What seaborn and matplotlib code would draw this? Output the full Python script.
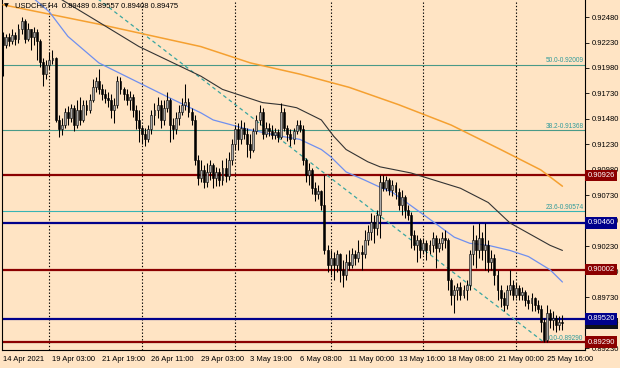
import matplotlib
matplotlib.use("Agg")
import matplotlib.pyplot as plt
import seaborn as sns
import numpy as np

# ---------------- data ----------------
symbol_text = "USDCHF,H4"
last_ohlc = ["0.89489", "0.89557", "0.89408", "0.89475"]

first_open = 0.9228
closes = [
    0.9221, 0.9228, 0.9224, 0.9230, 0.9226, 0.9236, 0.9244, 0.9226, 0.9236, 0.9228,
    0.9233, 0.9224, 0.9204, 0.9192, 0.9201, 0.9206, 0.9208, 0.9147, 0.9138, 0.9142,
    0.9155, 0.9149, 0.9159, 0.9142, 0.9157, 0.9147, 0.9162, 0.9157, 0.9167, 0.9179,
    0.9185, 0.9177, 0.9172, 0.9169, 0.9167, 0.9157, 0.9162, 0.9185, 0.9177, 0.9172,
    0.9167, 0.9170, 0.9157, 0.9147, 0.9139, 0.9133, 0.9128, 0.9138, 0.9152, 0.9157,
    0.9162, 0.9147, 0.9159, 0.9167, 0.9142, 0.9138, 0.9149, 0.9155, 0.9162, 0.9165,
    0.9155, 0.9147, 0.9108, 0.9090, 0.9098, 0.9086, 0.9096, 0.9103, 0.9090, 0.9096,
    0.9088, 0.9100, 0.9092, 0.9108, 0.9123, 0.9138, 0.9128, 0.9139, 0.9133, 0.9123,
    0.9118, 0.9136, 0.9147, 0.9155, 0.9133, 0.9139, 0.9136, 0.9132, 0.9135, 0.9130,
    0.9155, 0.9139, 0.9133, 0.9128, 0.9136, 0.9142, 0.9138, 0.9108, 0.9093, 0.9098,
    0.9080, 0.9074, 0.9077, 0.9064, 0.9019, 0.9005, 0.9012, 0.9005, 0.9015, 0.9000,
    0.8995, 0.9008, 0.9005, 0.9015, 0.9012, 0.9017, 0.9015, 0.9029, 0.9037, 0.9047,
    0.9041, 0.9054, 0.9086, 0.9080, 0.9088, 0.9078, 0.9083, 0.9076, 0.9064, 0.9071,
    0.9059, 0.9054, 0.9034, 0.9024, 0.9029, 0.9019, 0.9026, 0.9019, 0.9024, 0.9031,
    0.9021, 0.9026, 0.9031, 0.9029, 0.8990, 0.8975, 0.8980, 0.8983, 0.8975, 0.8980,
    0.8985, 0.9015, 0.9029, 0.9019, 0.9031, 0.9019, 0.9024, 0.9008, 0.9012, 0.8995,
    0.8980, 0.8972, 0.8965, 0.8980, 0.8985, 0.8975, 0.8982, 0.8975, 0.8978, 0.8970,
    0.8967, 0.8972, 0.8965, 0.8962, 0.8949, 0.8931, 0.8958, 0.8951, 0.8953, 0.8946,
    0.89489, 0.89475,
]
highs = [
    0.9233, 0.9231, 0.9232, 0.9236, 0.9233, 0.9241, 0.9248, 0.9246, 0.9242, 0.9236,
    0.9238, 0.9236, 0.9226, 0.9208, 0.9206, 0.9214, 0.9216, 0.9209, 0.9152, 0.9149,
    0.9159, 0.9161, 0.9163, 0.9162, 0.9167, 0.9170, 0.9167, 0.9167, 0.9172, 0.9187,
    0.9189, 0.9197, 0.9182, 0.9177, 0.9174, 0.9172, 0.9169, 0.9190, 0.9189, 0.9179,
    0.9177, 0.9175, 0.9172, 0.9162, 0.9157, 0.9142, 0.9139, 0.9142, 0.9157, 0.9164,
    0.9170, 0.9167, 0.9167, 0.9174, 0.9169, 0.9149, 0.9155, 0.9162, 0.9169, 0.9182,
    0.9169, 0.9159, 0.9152, 0.9113, 0.9108, 0.9103, 0.9105, 0.9108, 0.9105, 0.9101,
    0.9100, 0.9108, 0.9110, 0.9116, 0.9128, 0.9142, 0.9144, 0.9147, 0.9145, 0.9139,
    0.9133, 0.9139, 0.9152, 0.9162, 0.9159, 0.9145, 0.9144, 0.9142, 0.9139, 0.9138,
    0.9164, 0.9159, 0.9142, 0.9138, 0.9139, 0.9147, 0.9147, 0.9142, 0.9110, 0.9105,
    0.9100, 0.9086, 0.9083, 0.9078, 0.9093, 0.9024, 0.9019, 0.9017, 0.9019, 0.9016,
    0.9010, 0.9015, 0.9019, 0.9021, 0.9019, 0.9029, 0.9024, 0.9039, 0.9044, 0.9056,
    0.9054, 0.9059, 0.9093, 0.9093, 0.9092, 0.9090, 0.9088, 0.9086, 0.9080, 0.9078,
    0.9073, 0.9064, 0.9057, 0.9039, 0.9034, 0.9031, 0.9031, 0.9029, 0.9029, 0.9037,
    0.9034, 0.9031, 0.9037, 0.9039, 0.9031, 0.8992, 0.8985, 0.8987, 0.8988, 0.8985,
    0.8990, 0.9019, 0.9044, 0.9034, 0.9046, 0.9037, 0.9046, 0.9029, 0.9019, 0.9015,
    0.9000, 0.8985, 0.8978, 0.8985, 0.9000, 0.8990, 0.8987, 0.8985, 0.8983, 0.8980,
    0.8975, 0.8977, 0.8973, 0.8970, 0.8965, 0.8953, 0.8965, 0.8962, 0.8960, 0.8956,
    0.8955, 0.89557,
]
lows = [
    0.9190, 0.9218, 0.9220, 0.9222, 0.9221, 0.9223, 0.9231, 0.9223, 0.9224, 0.9216,
    0.9221, 0.9206, 0.9199, 0.9180, 0.9187, 0.9197, 0.9202, 0.9145, 0.9130, 0.9132,
    0.9139, 0.9142, 0.9145, 0.9136, 0.9139, 0.9142, 0.9145, 0.9152, 0.9154, 0.9165,
    0.9174, 0.9172, 0.9167, 0.9164, 0.9160, 0.9149, 0.9144, 0.9159, 0.9172, 0.9167,
    0.9162, 0.9157, 0.9150, 0.9138, 0.9125, 0.9123, 0.9121, 0.9125, 0.9133, 0.9142,
    0.9149, 0.9139, 0.9142, 0.9155, 0.9125, 0.9128, 0.9133, 0.9142, 0.9152, 0.9157,
    0.9150, 0.9142, 0.9103, 0.9083, 0.9086, 0.9080, 0.9081, 0.9088, 0.9080, 0.9082,
    0.9082, 0.9083, 0.9086, 0.9088, 0.9103, 0.9118, 0.9118, 0.9123, 0.9128, 0.9111,
    0.9110, 0.9116, 0.9133, 0.9142, 0.9128, 0.9130, 0.9131, 0.9128, 0.9128, 0.9125,
    0.9128, 0.9136, 0.9126, 0.9121, 0.9123, 0.9133, 0.9135, 0.9103, 0.9086, 0.9083,
    0.9074, 0.9067, 0.9069, 0.9059, 0.9015, 0.8998, 0.8995, 0.8990, 0.8998, 0.8988,
    0.8983, 0.8990, 0.9000, 0.9002, 0.9005, 0.9008, 0.9000, 0.9012, 0.9024, 0.9029,
    0.9026, 0.9034, 0.9031, 0.9077, 0.9077, 0.9073, 0.9072, 0.9069, 0.9059, 0.9054,
    0.9051, 0.9049, 0.9021, 0.9019, 0.9008, 0.9012, 0.9015, 0.9010, 0.9015, 0.9017,
    0.9002, 0.9017, 0.9019, 0.9021, 0.8980, 0.8965, 0.8958, 0.8970, 0.8970, 0.8972,
    0.8970, 0.8980, 0.9005, 0.9002, 0.9012, 0.9010, 0.9000, 0.8998, 0.9000, 0.8985,
    0.8970, 0.8963, 0.8960, 0.8962, 0.8975, 0.8970, 0.8972, 0.8970, 0.8970, 0.8964,
    0.8962, 0.8960, 0.8960, 0.8958, 0.8939, 0.8929, 0.8929, 0.8943, 0.8941, 0.8939,
    0.8941, 0.89408,
]

time_labels = ["14 Apr 2021", "19 Apr 03:00", "21 Apr 19:00", "26 Apr 11:00",
               "29 Apr 03:00", "3 May 19:00", "6 May 08:00", "11 May 00:00",
               "13 May 16:00", "18 May 08:00", "21 May 00:00", "25 May 16:00"]
week_start_bars = [15, 45, 75, 106, 136, 166]

price_ticks = [0.92480, 0.92230, 0.91980, 0.91730, 0.91480, 0.91230, 0.90980,
               0.90730, 0.90480, 0.90230, 0.89980, 0.89730, 0.89480, 0.89230]

red_levels = [0.90926, 0.90002, 0.89290]
blue_levels = [0.90460, 0.89520]
fib_names = ["50.0", "38.2", "23.6", "0.0"]
fib_prices = [0.92009, 0.91368, 0.90574, 0.89290]
fib_anchor_bars = [-58, 175]
fib_anchor_prices = [0.94728, 0.89290]

ma_slow_bars = [0, 31, 64, 80, 96, 112, 128, 145, 161, 174, 181]
ma_slow = [0.9260, 0.9241, 0.9219, 0.9203, 0.9192, 0.9179, 0.9162, 0.9142, 0.9118, 0.9098, 0.9082]
ma_mid_bars = [17, 19, 31, 44, 64, 71, 84, 90, 95, 103, 107, 111, 118, 122, 132, 148, 157, 164, 177, 181]
ma_mid = [0.9270, 0.9265, 0.9243, 0.9219, 0.9190, 0.9177, 0.9164, 0.9162, 0.9159, 0.9147,
          0.9131, 0.9118, 0.9106, 0.9101, 0.9095, 0.9080, 0.9066, 0.9046, 0.9024, 0.9019]
ma_fast_bars = [8, 10, 15, 21, 31, 45, 53, 64, 68, 79, 90, 96, 103, 106, 111, 117, 122, 126,
                137, 146, 151, 157, 164, 170, 177, 181]
ma_fast = [0.9275, 0.9266, 0.9253, 0.9229, 0.9203, 0.9182, 0.9170, 0.9154, 0.9147, 0.9138,
           0.9131, 0.9128, 0.9118, 0.9111, 0.9096, 0.9088, 0.9081, 0.9076, 0.9052, 0.9032,
           0.9026, 0.9024, 0.9019, 0.9013, 0.9000, 0.8988]

# ---------------- style ----------------
BG = "#FFE4C4"
FS = 5.5
FS_FIB = 4.7
sns.set_style("white")
plt.rcParams["font.family"] = ["Liberation Sans", "DejaVu Sans"]
plt.rcParams["axes.facecolor"] = BG
plt.rcParams["figure.facecolor"] = BG

W, H = 620, 368
fig = plt.figure(figsize=(W / 100, H / 100), dpi=100)
ax = fig.add_axes([2 / W, (H - 350) / H, (585 - 2) / W, 350 / H])
ax.set_facecolor(BG)

n = len(closes)
idx = np.arange(n)
o = np.array([first_open] + closes[:-1])
c = np.array(closes)
h = np.maximum(np.array(highs), np.maximum(o, c))
l = np.minimum(np.array(lows), np.minimum(o, c))

ax.set_xlim(-0.33, 188.3)
ax.set_ylim(0.89213, 0.92647)

# week separators
for b in week_start_bars:
    ax.axvline(b, color="black", lw=0.8, ls=(0, (1.2, 1.8)), zorder=1)

# horizontal levels
for p in fib_prices:
    col = "#38b4b4" if p < 0.91 else "#4a9a88"
    ax.axhline(p, color=col, lw=0.8, zorder=2)
for p in red_levels:
    ax.axhline(p, color="#8B0000", lw=1.6, zorder=2)
for p in blue_levels:
    ax.axhline(p, color="#00008B", lw=1.6, zorder=2)

# fib trend line
ax.plot(fib_anchor_bars, fib_anchor_prices, color="#3aa6a0", lw=0.9,
        ls=(0, (3, 2.5)), zorder=2)

# moving averages
sns.lineplot(x=ma_slow_bars, y=ma_slow, ax=ax, color="#F5A030", lw=1.1, zorder=3)
sns.lineplot(x=ma_mid_bars, y=ma_mid, ax=ax, color="#333333", lw=0.8, zorder=3)
sns.lineplot(x=ma_fast_bars, y=ma_fast, ax=ax, color="#6F8FEF", lw=0.9, zorder=3)

# candles
ax.vlines(idx, l, h, color="black", lw=0.75, zorder=4)
bull = c >= o
body_bottom = np.minimum(o, c)
body_h = np.maximum(np.abs(c - o), 0.00003)
ax.bar(idx[bull], body_h[bull], bottom=body_bottom[bull], width=0.62,
       color="#A8A8A8", edgecolor="black", linewidth=0.4, zorder=5)
ax.bar(idx[~bull], body_h[~bull], bottom=body_bottom[~bull], width=0.62,
       color="black", edgecolor="black", linewidth=0.4, zorder=5)

# fib labels
for name, p in zip(fib_names, fib_prices):
    ax.text(187.8, p + 0.00006, f"{name}-{p:.5f}", ha="right", va="bottom",
            fontsize=FS_FIB, color="#2f9a9a", zorder=6)

# axes styling
ax.spines["top"].set_visible(False)
for s in ["left", "right", "bottom"]:
    ax.spines[s].set_color("black")
    ax.spines[s].set_linewidth(0.8)
ax.yaxis.tick_right()
ax.set_yticks(price_ticks)
ax.set_yticklabels([f"{t:.5f}" for t in price_ticks])
ax.tick_params(axis="y", which="both", right=True, left=False, length=3, width=0.6,
               pad=1.5, labelsize=FS, colors="black")
ax.set_xticks(list(range(0, 16 * len(time_labels), 16)))
ax.set_xticklabels(time_labels, ha="left")
ax.tick_params(axis="x", length=3, width=0.6, pad=1.5, labelsize=FS, colors="black")
for t in ax.get_xticklabels():
    t.set_horizontalalignment("left")

# header
ax.text(0.004, 0.991, "\u25BC", transform=ax.transAxes, ha="left", va="top",
        fontsize=4.5, color="black", family=["DejaVu Sans"])
ax.text(0.022, 0.995, symbol_text + "  " + " ".join(last_ohlc), transform=ax.transAxes,
        ha="left", va="top", fontsize=FS, color="black")

# price boxes on the right
def price_box(p, fc, z):
    ax.annotate(f"{p:.5f}", xy=(1.0, p), xycoords=("axes fraction", "data"),
                xytext=(2.0, 0), textcoords="offset points", ha="left", va="center",
                fontsize=FS, color="white", zorder=z, annotation_clip=False,
                bbox=dict(boxstyle="square,pad=0.3", fc=fc, ec="none"))

price_box(float(last_ohlc[3]), "#101018", 7)
for p in red_levels:
    price_box(p, "#8B0000", 8)
for p in blue_levels:
    price_box(p, "#00008B", 8)

ax.set_xlabel("")
ax.set_ylabel("")
fig.savefig("out.png", dpi=100, facecolor=BG)
